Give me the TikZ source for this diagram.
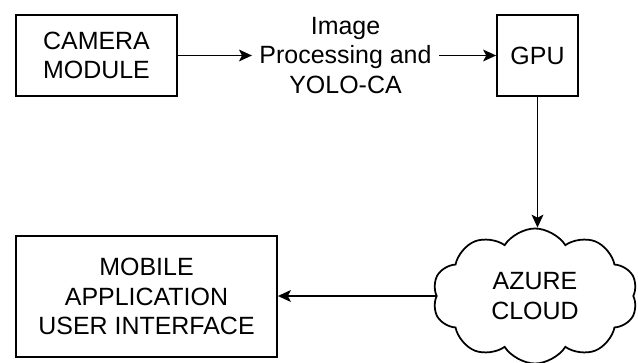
\documentclass[tikz,border=0pt]{standalone}
\usepackage{fontspec}
\setmainfont{Liberation Sans}
\usetikzlibrary{shapes.symbols,arrows.meta}

\tikzset{
  blk/.style={draw,line width=1.5pt,align=center,inner sep=0pt},
  conn/.style={line width=1.5pt,-{Stealth[length=11pt,width=10pt,inset=2.5pt]}}
}

\begin{document}
\begin{tikzpicture}[x=0.03cm,y=-0.03cm,font=\fontsize{21.3}{25}\selectfont]
    \useasboundingbox (0,0) rectangle (638,363);
    % top row
    \node[blk,minimum width=4.83cm,minimum height=2.43cm] (cam) at (96.5,55.5) {CAMERA\\MODULE};
    \node[align=center,inner sep=0.22cm] (proc) at (345.5,55.5) {Image\\Processing and\\YOLO-CA};
    \node[blk,minimum width=2.43cm,minimum height=2.43cm] (gpu) at (537.5,55.5) {GPU};
    % bottom row
    \node[blk,cloud,cloud puffs=10,cloud puff arc=115,aspect=1.5,
      minimum width=6.15cm,minimum height=4.05cm] (cloud) at (535,296) {AZURE\\CLOUD};
    \node[blk,minimum width=7.83cm,minimum height=3.63cm] (mob) at (146.5,296.5) {MOBILE\\APPLICATION\\USER INTERFACE};
    % connectors
    \draw[conn] (cam.east) -- (cam.east -| proc.west);
    \draw[conn] (proc.east) -- (proc.east -| gpu.west);
    \draw[conn] (gpu.south) -- (gpu.south |- cloud.north);
    \draw[conn] (cloud.west) -- (cloud.west -| mob.east);
\end{tikzpicture}
\end{document}
